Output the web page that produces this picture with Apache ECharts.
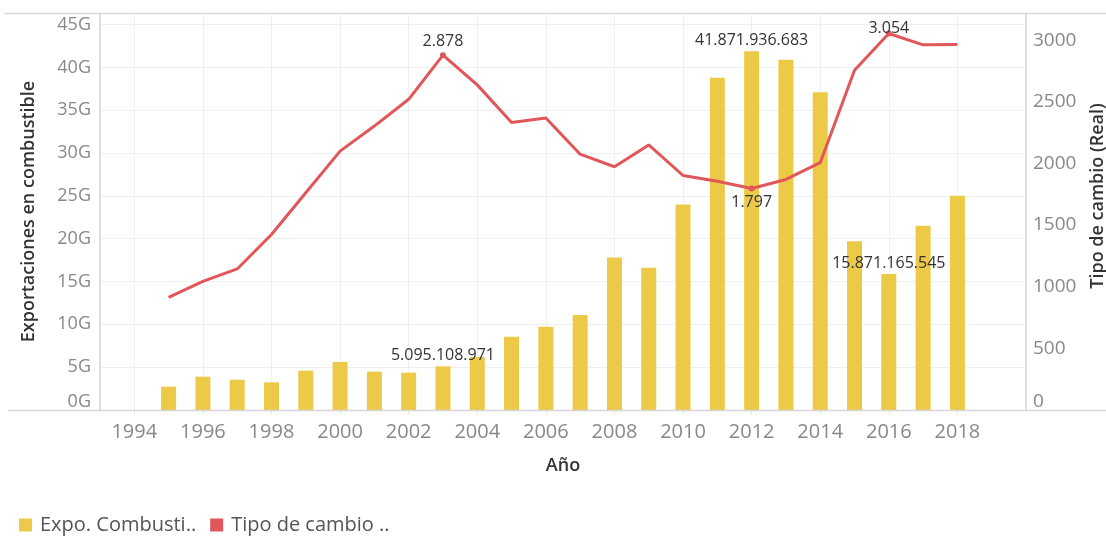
<!DOCTYPE html>
<html>
<head>
<meta charset="utf-8">
<script src="https://cdn.jsdelivr.net/npm/echarts@6/dist/echarts.min.js"></script>
<style>
  html, body { margin: 0; padding: 0; background: #ffffff; }
  #chart { width: 1106px; height: 537px; }
</style>
</head>
<body>
<div id="chart"></div>
<script>
// Años del eje (incluye un año vacío a cada lado)
const years = ['1993','1994','1995','1996','1997','1998','1999','2000','2001','2002','2003','2004','2005','2006',
  '2007','2008','2009','2010','2011','2012','2013','2014','2015','2016','2017','2018','2019','2020'];

// Exportaciones en combustible (USD)
const expoCombustible = [null, null, 2.72e9, 3.89e9, 3.54e9, 3.23e9, 4.59e9, 5.61e9, 4.48e9, 4.36e9, 5095108971,
  6.19e9, 8.56e9, 9.73e9, 11.1e9, 17.8e9, 16.6e9, 24.0e9, 38.8e9, 41871936683, 40.9e9, 37.1e9, 19.7e9,
  15871165545, 21.5e9, 25.0e9, null, null];

// Tipo de cambio (Real)
const tipoCambio = [null, null, 913, 1043, 1144, 1423, 1762, 2100, 2303, 2520, 2878, 2637, 2331, 2369, 2075,
  1973, 2150, 1902, 1856, 1797, 1870, 2006, 2756, 3054, 2962, 2965, null, null];

// Años con etiqueta de valor
const expoLabelYears = ['2003', '2012', '2016'];
const cambioLabelYears = ['2003', '2012', '2016'];

const leftTicks = [0, 5e9, 10e9, 15e9, 20e9, 25e9, 30e9, 35e9, 40e9, 45e9];
const rightTicks = [0, 500, 1000, 1500, 2000, 2500, 3000];

const FONT = '"Open Sans", "Noto Sans", sans-serif';

function miles(v) {
  return Math.round(v).toString().replace(/\B(?=(\d{3})+(?!\d))/g, '.');
}

const labelStyle = { color: '#333333', fontSize: 16, fontFamily: FONT };

const barData = years.map((y, i) => {
  const item = { value: expoCombustible[i] };
  if (expoLabelYears.includes(y)) {
    item.label = Object.assign({ show: true, position: 'top', distance: 3,
      formatter: p => miles(p.value) }, labelStyle);
  }
  return item;
});

const lineLabelPos = { '2003': { position: 'top', distance: 3, offset: [0, 0] },
                       '2012': { position: 'bottom', distance: 3, offset: [0, 0] },
                       '2016': { position: 'top', distance: 0, offset: [0, 6] } };

const lineData = years.map((y, i) => {
  const item = { value: tipoCambio[i] };
  if (cambioLabelYears.includes(y)) {
    item.label = Object.assign({ show: true, formatter: p => miles(p.value) }, lineLabelPos[y], labelStyle);
  }
  return item;
});

const evenYear = (idx, val) => Number(val) % 2 === 0 && Number(val) <= 2018;

const chart = echarts.init(document.getElementById('chart'), null, { renderer: 'canvas' });

chart.setOption({
  animation: false,
  textStyle: { fontFamily: FONT },
  grid: { left: 100, right: 80, top: 13, bottom: 127, outerBoundsMode: 'none' },
  legend: {
    left: 14, top: 510,
    icon: 'rect', itemWidth: 13, itemHeight: 13, itemGap: 14,
    textStyle: { color: '#555555', fontSize: 20, fontFamily: FONT, padding: [0, 0, 0, 3] },
    formatter: name => name === 'Expo. Combustible' ? 'Expo. Combusti..' : 'Tipo de cambio ..',
    data: ['Expo. Combustible', 'Tipo de cambio (Real)']
  },
  graphic: [
    { type: 'line', shape: { x1: 4, y1: 13.5, x2: 1106, y2: 13.5 }, style: { stroke: '#d9d9d9', lineWidth: 1.5 }, z: 10 },
    { type: 'line', shape: { x1: 8, y1: 410.5, x2: 1106, y2: 410.5 }, style: { stroke: '#d6d6d6', lineWidth: 1.5 }, z: 10 },
    {
      type: 'text', x: 1098, y: 196, rotation: Math.PI / 2,
      style: { text: 'Tipo de cambio (Real)', fill: '#333333', fontSize: 18, fontWeight: 600, fontFamily: FONT,
               align: 'center', verticalAlign: 'middle' }
    }
  ],
  xAxis: {
    type: 'category',
    data: years,
    boundaryGap: false,
    name: 'Año',
    nameLocation: 'middle',
    nameGap: 47,
    nameTextStyle: { color: '#333333', fontSize: 18, fontWeight: 600, fontFamily: FONT },
    axisLine: { show: false },
    axisTick: { show: true, interval: evenYear, length: 5, lineStyle: { color: '#e6e6e6' } },
    axisLabel: { interval: evenYear, margin: 12, color: '#888888', fontSize: 20, fontFamily: FONT },
    splitLine: { show: true, interval: evenYear, lineStyle: { color: '#f0f0f0', width: 1 } }
  },
  yAxis: [
    {
      type: 'value',
      min: 0, max: 46.35e9, interval: 5e9,
      name: 'Exportaciones en combustible',
      nameLocation: 'middle', nameRotate: 90, nameGap: 62,
      nameTextStyle: { color: '#333333', fontSize: 18, fontWeight: 600, fontFamily: FONT },
      axisLine: { show: true, lineStyle: { color: '#d6d6d6', width: 1.5 } },
      axisTick: { show: false },
      axisLabel: {
        margin: 9, color: '#888888', fontSize: 18, fontFamily: FONT,
        showMaxLabel: false,
        formatter: v => {
          if (!leftTicks.includes(v)) return '';
          return v === 0 ? '{z|0G}' : (v / 1e9) + 'G';
        },
        rich: { z: { color: '#888888', fontSize: 18, fontFamily: FONT, padding: [0, 0, 16, 0] } }
      },
      splitLine: { show: true, lineStyle: { color: '#efefef', width: 1 } }
    },
    {
      type: 'value',
      min: 0, max: 3220, interval: 500,
      axisLine: { show: true, lineStyle: { color: '#d6d6d6', width: 1.5 } },
      axisTick: { show: false },
      axisLabel: {
        margin: 7, color: '#888888', fontSize: 19, fontFamily: FONT,
        showMaxLabel: false,
        formatter: v => {
          if (!rightTicks.includes(v)) return '';
          return v === 0 ? '{z|0}' : String(v);
        },
        rich: { z: { color: '#888888', fontSize: 19, fontFamily: FONT, padding: [0, 0, 16, 0] } }
      },
      splitLine: { show: false }
    }
  ],
  series: [
    {
      name: 'Expo. Combustible',
      type: 'bar',
      yAxisIndex: 0,
      barWidth: 15,
      itemStyle: { color: '#EDC948' },
      data: barData,
      z: 2
    },
    {
      name: 'Tipo de cambio (Real)',
      type: 'line',
      yAxisIndex: 1,
      data: lineData,
      showSymbol: true,
      showAllSymbol: true,
      symbol: 'circle',
      symbolSize: (v, p) => cambioLabelYears.includes(years[p.dataIndex]) ? 6 : 0,
      itemStyle: { color: '#E15759' },
      lineStyle: { color: '#E15759', width: 3 },
      z: 3
    }
  ]
});
</script>
</body>
</html>
